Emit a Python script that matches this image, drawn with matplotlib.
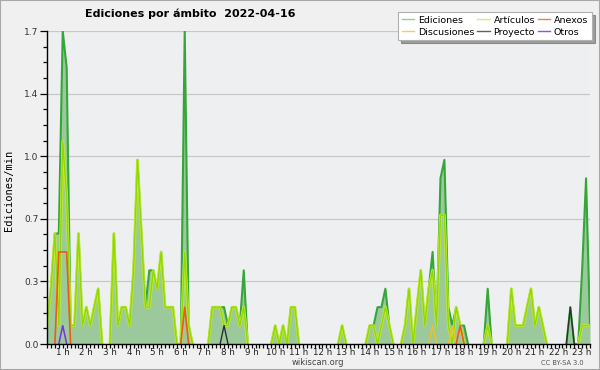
import numpy as np
import matplotlib.pyplot as plt
import matplotlib.patheffects as pe
from matplotlib.patches import Rectangle

# intervalos de 10 min, el primero visible es 00:20
start_min = 20

ediciones = [
    0.1, 0.3, 0.6, 0.6,                 # 0 h
    1.7, 1.5, 0.1, 0.1, 0.6, 0.1,       # 1 h
    0.2, 0.1, 0.2, 0.3, 0, 0,           # 2 h
    0, 0.6, 0.1, 0.2, 0.2, 0.1,         # 3 h
    0.4, 1.0, 0.6, 0.2, 0.4, 0.4,       # 4 h
    0.3, 0.5, 0.2, 0.2, 0.2, 0,         # 5 h
    0, 1.7, 0.1, 0, 0, 0,               # 6 h
    0, 0, 0.2, 0.2, 0.2, 0.2,           # 7 h
    0.1, 0.2, 0.2, 0.1, 0.4, 0,         # 8 h
    0, 0, 0, 0, 0, 0,                   # 9 h
    0.1, 0, 0.1, 0, 0.2, 0.2,           # 10 h
    0, 0, 0, 0, 0, 0,                   # 11 h
    0, 0, 0, 0, 0, 0.1,                 # 12 h
    0, 0, 0, 0, 0, 0,                   # 13 h
    0.1, 0.1, 0.2, 0.2, 0.3, 0.1,       # 14 h
    0, 0, 0, 0.1, 0.3, 0,               # 15 h
    0.2, 0.4, 0.1, 0.3, 0.5, 0.1,       # 16 h
    0.9, 1.0, 0.2, 0.1, 0.2, 0.1,       # 17 h
    0.1, 0, 0, 0, 0, 0,                 # 18 h
    0.3, 0, 0, 0, 0, 0,                 # 19 h
    0.3, 0.1, 0.1, 0.1, 0.2, 0.3,       # 20 h
    0.1, 0.2, 0.1, 0, 0, 0,             # 21 h
    0, 0, 0, 0.2, 0, 0,                 # 22 h
    0.4, 0.9, 0.1,                      # 23 h
]

articulos = [
    0.1, 0.3, 0.6, 0.1,
    1.1, 0.8, 0.1, 0.1, 0.6, 0.1,
    0.2, 0.1, 0.2, 0.3, 0, 0,
    0, 0.6, 0.1, 0.2, 0.2, 0.1,
    0.4, 1.0, 0.6, 0.2, 0.2, 0.4,
    0.3, 0.5, 0.2, 0.2, 0.2, 0,
    0, 0.5, 0.1, 0, 0, 0,
    0, 0, 0.2, 0.2, 0.2, 0.1,
    0.1, 0.2, 0.2, 0.1, 0.2, 0,
    0, 0, 0, 0, 0, 0,
    0.1, 0, 0.1, 0, 0.2, 0.2,
    0, 0, 0, 0, 0, 0,
    0, 0, 0, 0, 0, 0.1,
    0, 0, 0, 0, 0, 0,
    0.1, 0.1, 0, 0.1, 0.2, 0.1,
    0, 0, 0, 0.1, 0.3, 0,
    0.2, 0.4, 0.1, 0.3, 0.4, 0.1,
    0.7, 0.7, 0.1, 0, 0.2, 0.1,
    0, 0, 0, 0, 0, 0,
    0.1, 0, 0, 0, 0, 0,
    0.3, 0.1, 0.1, 0.1, 0.2, 0.3,
    0.1, 0.2, 0.1, 0, 0, 0,
    0, 0, 0, 0, 0, 0,
    0.1, 0.1, 0.1,
]

anexos = {"00:50": 0.5, "01:00": 0.5, "01:10": 0.5, "06:10": 0.2, "17:50": 0.1}
discusiones = {"16:40": 0.1, "17:30": 0.1}
proyecto = {"07:50": 0.1, "22:30": 0.2}
otros = {"01:00": 0.1}

hour_labels = [f"{h} h" for h in range(1, 24)]

n = len(ediciones)
minutes = start_min + 10 * np.arange(n)
hours = minutes / 60


def expand(d):
    arr = np.zeros(n)
    for hhmm, v in d.items():
        h, m = hhmm.split(":")
        arr[(int(h) * 60 + int(m) - start_min) // 10] = v
    return arr


def visible(arr):
    # no dibujar los tramos planos en cero
    arr = np.asarray(arr, dtype=float)
    out = arr.copy()
    for i in range(n):
        lo = arr[i - 1] if i > 0 else 0
        hi = arr[i + 1] if i < n - 1 else 0
        if arr[i] == 0 and lo == 0 and hi == 0:
            out[i] = np.nan
    return out


fig = plt.figure(figsize=(6, 3.7), dpi=100, facecolor='#f0f0f0')
fig.patches.append(Rectangle((0, 0), 1, 1, transform=fig.transFigure,
                             fill=False, edgecolor='#a8a8a8', lw=1.5))
ax = fig.add_axes([47 / 600, 1 - 344 / 370, 543 / 600, 313 / 370])
ax.set_facecolor('#eeeff0')

ax.fill_between(hours, ediciones, color='#9cc99c', lw=0, zorder=2)
ax.plot(hours, visible(ediciones), color='#34a63a', lw=1.5, zorder=3)
ax.plot(hours, visible(articulos), color='#92d800', lw=1.0, zorder=4,
        path_effects=[pe.Stroke(linewidth=2.0, foreground='#c4ec40'), pe.Normal()])
ax.plot(hours, visible(expand(discusiones)), color='#f0c020', lw=1.1, zorder=5)
ax.plot(hours, visible(expand(proyecto)), color='#303030', lw=1.0, zorder=5)
ax.plot(hours, visible(expand(anexos)), color='#f05a14', lw=1.2, zorder=5)
ax.plot(hours, visible(expand(otros)), color='#7a30e0', lw=1.1, zorder=6)

ax.set_xlim(hours[0], hours[-1])
ax.set_ylim(0, 1.7)

yt = np.linspace(0, 1.7, 6)
ax.set_yticks(yt)
ax.set_yticklabels([f"{v:.1f}" for v in yt], fontsize=6.5, color='#333333')
ax.set_yticks(np.arange(0, 1.7001, 0.085), minor=True)
ax.set_xticks(range(1, 24))
ax.set_xticklabels(hour_labels, fontsize=6.3, color='#222222')
ax.set_xticks(hours, minor=True)
ax.tick_params(axis='y', which='major', length=5, width=0.9, pad=1)
ax.tick_params(axis='y', which='minor', length=3, width=0.9)
ax.tick_params(axis='x', which='both', length=3, width=0.9, pad=0)

for v in yt[1:]:
    ax.axhline(v, color='#c8c8c8', lw=0.9, zorder=1)

for s in ['top', 'right']:
    ax.spines[s].set_visible(False)
for s in ['left', 'bottom']:
    ax.spines[s].set_color('black')
    ax.spines[s].set_linewidth(1.0)
    ax.spines[s].set_zorder(7)

fig.text(85 / 600, 1 - 14 / 370, 'Ediciones por ámbito  2022-04-16',
         fontsize=8, fontweight='bold', va='center', ha='left')
fig.text(9 / 600, 1 - 190 / 370, 'Ediciones/min', family='DejaVu Sans Mono',
         fontsize=7.5, rotation=90, va='center', ha='center')
fig.text(318 / 600, 1 - 362.5 / 370, 'wikiscan.org', fontsize=6,
         color='#444444', ha='center', va='center')
fig.text(562 / 600, 1 - 363 / 370, 'CC BY-SA 3.0', fontsize=4.8,
         color='#555555', ha='center', va='center')

handles = [
    plt.Line2D([], [], color='#8cd68c', lw=1),
    plt.Line2D([], [], color='#f8d050', lw=1),
    plt.Line2D([], [], color='#d2f060', lw=1),
    plt.Line2D([], [], color='#606060', lw=1),
    plt.Line2D([], [], color='#f08050', lw=1),
    plt.Line2D([], [], color='#9050e0', lw=1),
]
labels = ['Ediciones', 'Discusiones', 'Artículos', 'Proyecto', 'Anexos', 'Otros']
leg = fig.legend(handles, labels, ncol=3, loc='upper right',
                 bbox_to_anchor=(592 / 600, 1 - 12 / 370), fontsize=6.8,
                 frameon=True, fancybox=False, shadow=True,
                 handlelength=1.3, handletextpad=0.4, columnspacing=0.3,
                 labelspacing=0.3, borderpad=0.4, borderaxespad=0)
leg.get_frame().set_edgecolor('#b0b0b0')
leg.get_frame().set_linewidth(0.8)

fig.savefig('out.png', dpi=100, facecolor=fig.get_facecolor())
